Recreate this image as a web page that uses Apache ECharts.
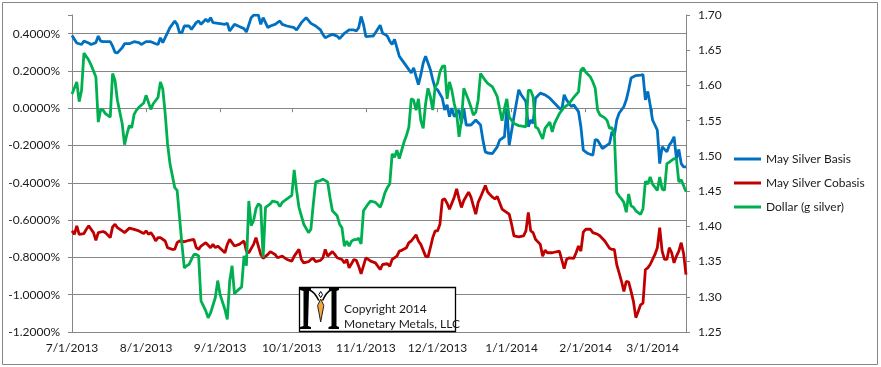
<!DOCTYPE html>
<html>
<head>
<meta charset="utf-8">
<script src="https://cdn.jsdelivr.net/npm/echarts@6/dist/echarts.min.js"></script>
<style>html,body{margin:0;padding:0;background:#fff;}#c{width:881px;height:367px;}</style>
</head>
<body>
<div id="c"></div>
<script>
// Day offsets are days after 7/1/2013.
const START = Date.UTC(2013, 6, 1);
const DAY = 86400000;
const LAST_DAY = 257;

const seriesNames = ['May Silver Basis', 'May Silver Cobasis', 'Dollar (g silver)'];

const xTickLabels = ['7/1/2013','8/1/2013','9/1/2013','10/1/2013','11/1/2013','12/1/2013','1/1/2014','2/1/2014','3/1/2014'];
const leftTicks = [-1.2,-1.0,-0.8,-0.6,-0.4,-0.2,0.0,0.2,0.4];
const rightTicks = [1.25,1.30,1.35,1.40,1.45,1.50,1.55,1.60,1.65,1.70];

// May Silver Basis (%), left axis
const basis = [[0,0.39],[2,0.35],[4,0.342],[5,0.36],[7,0.35],[8,0.342],[10,0.352],[11,0.387],[12,0.36],[13,0.357],[16,0.357],[17,0.333],[18,0.30],[19,0.297],[21,0.324],[22,0.346],[24,0.346],[26,0.357],[28,0.352],[29,0.342],[31,0.357],[33,0.357],[35,0.346],[36,0.342],[37,0.378],[38,0.352],[40,0.405],[41,0.432],[43,0.468],[44,0.45],[45,0.405],[46,0.405],[47,0.441],[49,0.441],[50,0.423],[52,0.459],
[53,0.468],[54,0.45],[56,0.477],[57,0.463],[58,0.486],[59,0.459],[62,0.454],[64,0.45],[65,0.456],[66,0.414],[68,0.45],[70,0.438],[72,0.427],[73,0.409],[75,0.486],[76,0.499],[78,0.499],[79,0.45],[80,0.486],[82,0.432],[83,0.441],[85,0.45],[87,0.468],[88,0.45],[90,0.441],[93,0.432],[94,0.42],[96,0.459],[98,0.486],[100,0.455],[102,0.441],[104,0.42],[105,0.396],
[106,0.378],[108,0.391],[109,0.396],[111,0.387],[112,0.373],[114,0.402],[116,0.42],[118,0.42],[119,0.414],[120,0.432],[121,0.492],[122,0.45],[123,0.384],[125,0.387],[126,0.387],[127,0.405],[129,0.445],[130,0.402],[131,0.396],[132,0.387],[133,0.36],[134,0.342],[135,0.369],[137,0.279],[138,0.261],[139,0.243],[141,0.207],[142,0.189],[143,0.216],[144,0.171],[145,0.126],[146,0.18],[147,0.243],[148,0.279],[150,0.207],[151,0.153],[152,0.108],[153,0.099],[155,0.054],[156,-0.009],[157,0.018],[158,-0.045],
[159,0.0],[160,-0.045],[162,-0.009],[163,-0.081],[164,0.0],[165,-0.09],[167,-0.09],[169,-0.063],[171,-0.09],[172,-0.171],[173,-0.234],[174,-0.24],[176,-0.243],[178,-0.207],[179,-0.171],[181,-0.153],[182,0.0],[183,-0.198],[185,-0.045],[187,0.099],[188,0.072],[190,0.036],[191,-0.099],[192,-0.063],[193,-0.081],[194,0.054],[196,0.081],[198,0.072],[200,0.054],[202,0.027],[204,0.0],[205,-0.009],[206,0.072],[207,0.045],[209,0.009],[210,0.018],
[212,-0.018],[213,-0.099],[214,-0.225],[216,-0.243],[218,-0.252],[219,-0.168],[220,-0.171],[222,-0.216],[223,-0.207],[225,-0.189],[226,-0.126],[227,-0.148],[228,-0.063],[229,-0.027],[231,0.009],[232,0.045],[233,0.099],[234,0.162],[236,0.175],[238,0.178],[239,0.18],[240,0.045],[241,0.09],[242,0.018],[243,-0.063],[244,-0.09],[245,-0.117],[246,-0.297],[247,-0.207],[249,-0.234],[250,-0.198],[251,-0.18],[252,-0.153],[253,-0.27],[254,-0.221],[255,-0.297],[256,-0.315],[257,-0.315]];

// May Silver Cobasis (%), left axis
const cobasis = [[0,-0.658],[1,-0.676],[2,-0.631],[3,-0.676],[5,-0.672],[6,-0.649],[7,-0.631],[9,-0.667],[10,-0.708],[11,-0.667],[13,-0.661],[14,-0.667],[16,-0.694],[17,-0.636],[18,-0.622],[19,-0.64],[21,-0.658],[22,-0.667],[24,-0.643],[26,-0.65],[28,-0.658],[30,-0.672],[31,-0.658],[32,-0.676],[33,-0.667],[34,-0.685],[35,-0.712],[36,-0.694],[37,-0.694],[39,-0.712],[40,-0.748],[42,-0.757],[43,-0.757],[44,-0.721],[45,-0.712],[47,-0.716],[48,-0.712],[49,-0.708],[51,-0.703],[52,-0.748],
[53,-0.757],[54,-0.739],[55,-0.73],[56,-0.721],[58,-0.748],[59,-0.73],[60,-0.748],[61,-0.739],[62,-0.751],[64,-0.775],[65,-0.73],[66,-0.703],[68,-0.739],[70,-0.73],[71,-0.721],[72,-0.712],[73,-0.766],[74,-0.775],[76,-0.73],[77,-0.694],[78,-0.739],[79,-0.784],[80,-0.805],[82,-0.784],[83,-0.769],[85,-0.784],[86,-0.802],[88,-0.793],[89,-0.802],[90,-0.811],[92,-0.82],[93,-0.793],[95,-0.757],[96,-0.811],[97,-0.829],[99,-0.823],[100,-0.811],[101,-0.805],[102,-0.823],[104,-0.816],
[105,-0.802],[106,-0.757],[107,-0.793],[109,-0.769],[110,-0.784],[111,-0.802],[113,-0.811],[114,-0.829],[115,-0.811],[116,-0.856],[118,-0.811],[119,-0.816],[120,-0.847],[121,-0.888],[123,-0.802],[124,-0.811],[125,-0.82],[127,-0.829],[129,-0.865],[130,-0.838],[132,-0.834],[133,-0.847],[134,-0.811],[136,-0.793],[137,-0.766],[138,-0.762],[140,-0.748],[141,-0.721],[142,-0.712],[144,-0.679],[145,-0.712],[146,-0.73],[148,-0.793],[149,-0.798],[150,-0.748],[151,-0.694],[152,-0.658],[153,-0.658],[154,-0.622],[155,-0.492],[156,-0.486],[157,-0.51],[158,-0.541],
[160,-0.477],[161,-0.432],[162,-0.486],[163,-0.532],[164,-0.495],[166,-0.45],[167,-0.477],[168,-0.523],[169,-0.568],[170,-0.505],[171,-0.477],[173,-0.414],[174,-0.45],[176,-0.477],[177,-0.486],[178,-0.474],[180,-0.541],[181,-0.55],[183,-0.568],[184,-0.622],[185,-0.685],[187,-0.69],[189,-0.685],[190,-0.658],[191,-0.559],[192,-0.658],[193,-0.667],[194,-0.703],[196,-0.73],[197,-0.793],[198,-0.762],[199,-0.775],[201,-0.775],[204,-0.766],[206,-0.86],[207,-0.811],[208,-0.802],[210,-0.805],
[211,-0.775],[212,-0.739],[213,-0.766],[214,-0.665],[215,-0.649],[217,-0.649],[218,-0.667],[220,-0.676],[221,-0.685],[223,-0.712],[225,-0.751],[226,-0.757],[227,-0.757],[228,-0.838],[229,-0.883],[230,-0.928],[231,-0.982],[232,-0.928],[233,-0.932],[234,-0.982],[235,-1.036],[236,-1.123],[237,-1.09],[238,-1.054],[239,-1.045],[240,-0.865],[241,-0.856],[242,-0.838],[244,-0.784],[245,-0.748],[246,-0.64],[247,-0.766],[248,-0.811],[249,-0.811],[250,-0.748],[251,-0.775],[252,-0.829],[253,-0.793],[254,-0.766],[255,-0.721],[256,-0.78],[257,-0.892]];

// Dollar (g silver), right axis
const dollar = [[0,1.588],[2,1.605],[3,1.577],[4,1.593],[5,1.646],[7,1.636],[8,1.629],[10,1.612],[11,1.548],[12,1.566],[13,1.565],[14,1.56],[16,1.555],[17,1.617],[18,1.607],[19,1.579],[21,1.546],[22,1.516],[23,1.531],[24,1.543],[25,1.54],[26,1.559],[27,1.565],[28,1.569],[30,1.575],[31,1.586],[33,1.566],[34,1.574],[36,1.583],[37,1.605],[38,1.595],[39,1.56],[40,1.517],[41,1.489],[43,1.455],[44,1.451],[45,1.413],[46,1.375],[47,1.341],[48,1.344],[49,1.346],[50,1.353],[51,1.36],[52,1.36],
[53,1.358],[54,1.294],[55,1.287],[56,1.28],[57,1.27],[58,1.277],[60,1.299],[61,1.323],[62,1.303],[64,1.282],[65,1.268],[66,1.322],[67,1.344],[68,1.304],[69,1.308],[71,1.314],[72,1.358],[73,1.344],[74,1.436],[75,1.401],[76,1.408],[77,1.425],[78,1.432],[79,1.429],[80,1.356],[81,1.427],[83,1.432],[84,1.436],[86,1.434],[87,1.428],[88,1.434],[90,1.439],[92,1.444],[93,1.48],[94,1.451],[95,1.427],[97,1.403],[99,1.391],[100,1.396],[101,1.432],[102,1.463],[104,1.465],
[105,1.467],[107,1.463],[108,1.441],[109,1.422],[111,1.415],[112,1.403],[113,1.398],[114,1.372],[115,1.379],[116,1.372],[117,1.379],[118,1.381],[119,1.381],[120,1.383],[121,1.375],[122,1.422],[123,1.427],[124,1.432],[125,1.436],[127,1.434],[129,1.427],[130,1.436],[131,1.448],[132,1.455],[133,1.46],[134,1.503],[135,1.498],[136,1.508],[137,1.496],[138,1.508],[139,1.52],[140,1.529],[141,1.541],[142,1.581],[143,1.579],[144,1.565],[145,1.581],[146,1.55],[147,1.539],[148,1.574],[149,1.596],[150,1.584],[151,1.565],[152,1.598],[153,1.603],[154,1.619],[155,1.627],
[156,1.628],[157,1.581],[158,1.605],[159,1.593],[160,1.574],[161,1.56],[162,1.527],[163,1.55],[164,1.596],[166,1.579],[167,1.569],[168,1.558],[169,1.562],[170,1.579],[171,1.617],[173,1.607],[174,1.603],[176,1.598],[178,1.584],[179,1.567],[180,1.55],[181,1.567],[182,1.581],[183,1.555],[185,1.546],[187,1.543],[189,1.542],[190,1.541],[191,1.593],[192,1.593],[193,1.584],[194,1.541],[195,1.539],[197,1.524],[198,1.539],[200,1.548],[201,1.534],[202,1.546],[204,1.56],[206,1.569],
[208,1.574],[210,1.583],[212,1.591],[213,1.622],[214,1.625],[215,1.619],[217,1.612],[218,1.605],[219,1.596],[220,1.565],[221,1.558],[223,1.554],[224,1.55],[225,1.539],[226,1.54],[227,1.531],[228,1.448],[229,1.443],[230,1.439],[231,1.434],[232,1.42],[233,1.446],[234,1.429],[235,1.427],[236,1.422],[238,1.417],[239,1.425],[240,1.464],[241,1.46],[242,1.47],[243,1.46],[245,1.451],[246,1.47],[247,1.453],[248,1.451],[249,1.489],[250,1.491],[252,1.496],[253,1.495],[254,1.463],[255,1.466],[257,1.449]];

const colors = ['#0070C0', '#C00000', '#00B050'];
const FONT = 'Lato';
const TXT = '#1a1a1a';
const AXIS = '#868686';

function parseMDY(s) { const p = s.split('/').map(Number); return Date.UTC(p[2], p[0] - 1, p[1]); }
const xTickDays = xTickLabels.map(s => Math.round((parseMDY(s) - START) / DAY));
function dayLabel(v) {
  const i = xTickDays.findIndex(d => Math.abs(d - v) < 0.01);
  return i >= 0 ? xTickLabels[i] : '';
}

const chart = echarts.init(document.getElementById('c'), null, { renderer: 'canvas' });

// gridline colours: hide the line at the 0.5% top limit
const gridColors = leftTicks.map(() => AXIS).concat(['rgba(0,0,0,0)']);

const option = {
  animation: false,
  backgroundColor: '#fff',
  grid: { left: 72, top: 15, right: 195, bottom: 35, containLabel: false },
  legend: {
    orient: 'vertical', left: 734, top: 152, padding: 0,
    icon: 'rect', itemWidth: 27, itemHeight: 3, itemGap: 10,
    textStyle: { fontFamily: FONT, fontSize: 12, color: TXT, lineHeight: 14 },
    data: seriesNames
  },
  xAxis: {
    type: 'value',
    min: 0, max: LAST_DAY,
    axisLine: { show: true, lineStyle: { color: AXIS, width: 1 } },
    axisTick: { show: true, length: 4, inside: false, customValues: xTickDays, lineStyle: { color: AXIS } },
    axisLabel: {
      customValues: xTickDays, margin: 10, hideOverlap: false,
      fontFamily: FONT, fontSize: 12, color: TXT,
      formatter: v => dayLabel(v)
    },
    splitLine: { show: false }
  },
  yAxis: [
    {
      type: 'value', position: 'left', min: -1.2, max: 0.5, interval: 0.2,
      axisLine: { show: true, lineStyle: { color: AXIS, width: 1 } },
      axisTick: { show: true, length: 4, inside: false, lineStyle: { color: AXIS } },
      axisLabel: {
        margin: 12, fontFamily: FONT, fontSize: 12, color: TXT,
        formatter: v => { if (Math.abs(v) < 1e-9) v = 0; return (v > 0.45) ? '' : v.toFixed(4) + '%'; }
      },
      splitLine: { show: true, lineStyle: { color: gridColors, width: 1 } }
    },
    {
      type: 'value', position: 'right', min: 1.25, max: 1.70, interval: 0.05,
      axisLine: { show: true, lineStyle: { color: AXIS, width: 1 } },
      axisTick: { show: true, length: 4, inside: false, lineStyle: { color: AXIS } },
      axisLabel: { margin: 12, fontFamily: FONT, fontSize: 12, color: TXT, formatter: v => v.toFixed(2) },
      splitLine: { show: false }
    }
  ],
  series: [
    { name: seriesNames[0], type: 'line', yAxisIndex: 0, data: basis, showSymbol: false, symbol: 'none',
      lineStyle: { color: colors[0], width: 2.8 }, itemStyle: { color: colors[0] } },
    { name: seriesNames[1], type: 'line', yAxisIndex: 0, data: cobasis, showSymbol: false, symbol: 'none',
      lineStyle: { color: colors[1], width: 2.8 }, itemStyle: { color: colors[1] } },
    { name: seriesNames[2], type: 'line', yAxisIndex: 1, data: dollar, showSymbol: false, symbol: 'none',
      lineStyle: { color: colors[2], width: 2.8 }, itemStyle: { color: colors[2] } }
  ],
  graphic: [
    { type: 'rect', z: 0, silent: true, shape: { x: 2.5, y: 2.5, width: 875, height: 362 },
      style: { fill: null, stroke: AXIS, lineWidth: 1 } },
    { type: 'rect', z: 100, shape: { x: 299.5, y: 287.5, width: 156, height: 44 },
      style: { fill: '#fff', stroke: '#000', lineWidth: 1.3 } },
    { type: 'polygon', z: 101, shape: { points: [[300,288],[311,288],[311,290],[309,291],[308,326],[311,327],[311,329],[300,329],[300,327],[303.5,326],[303.5,291],[300,290]] },
      style: { fill: '#000' } },
    { type: 'polygon', z: 101, shape: { points: [[329,288],[339,288],[339,290],[336.5,291],[336.5,326],[339,327],[339,329],[328.5,329],[328.5,327],[331.5,326],[331.5,291],[329,290]] },
      style: { fill: '#000' } },
    { type: 'bezierCurve', z: 101, shape: { x1: 309, y1: 290, cpx1: 314, cpy1: 291, x2: 318.8, y2: 300.5 },
      style: { fill: null, stroke: '#000', lineWidth: 1.6 } },
    { type: 'bezierCurve', z: 101, shape: { x1: 331.5, y1: 290, cpx1: 327, cpy1: 291, x2: 322.6, y2: 300.5 },
      style: { fill: null, stroke: '#000', lineWidth: 1.6 } },
    { type: 'polygon', z: 102, shape: { points: [[320.7,291.5],[322.6,294.6],[320.7,297.6],[318.8,294.6]] },
      style: { fill: '#fff', stroke: '#000', lineWidth: 1 } },
    { type: 'polygon', z: 102, shape: { points: [[320.7,299],[323.8,305.5],[320.7,322],[317.6,305.5]] },
      style: { fill: '#F6A53A', stroke: '#222', lineWidth: 1 } },
    { type: 'text', z: 102, x: 344, y: 309,
      style: { text: 'Copyright 2014', fontFamily: FONT, fontSize: 12, fill: TXT, align: 'left', verticalAlign: 'middle' } },
    { type: 'text', z: 102, x: 344, y: 324,
      style: { text: 'Monetary Metals, LLC', fontFamily: FONT, fontSize: 12, fill: TXT, align: 'left', verticalAlign: 'middle' } }
  ]
};
chart.setOption(option);
</script>
</body>
</html>
